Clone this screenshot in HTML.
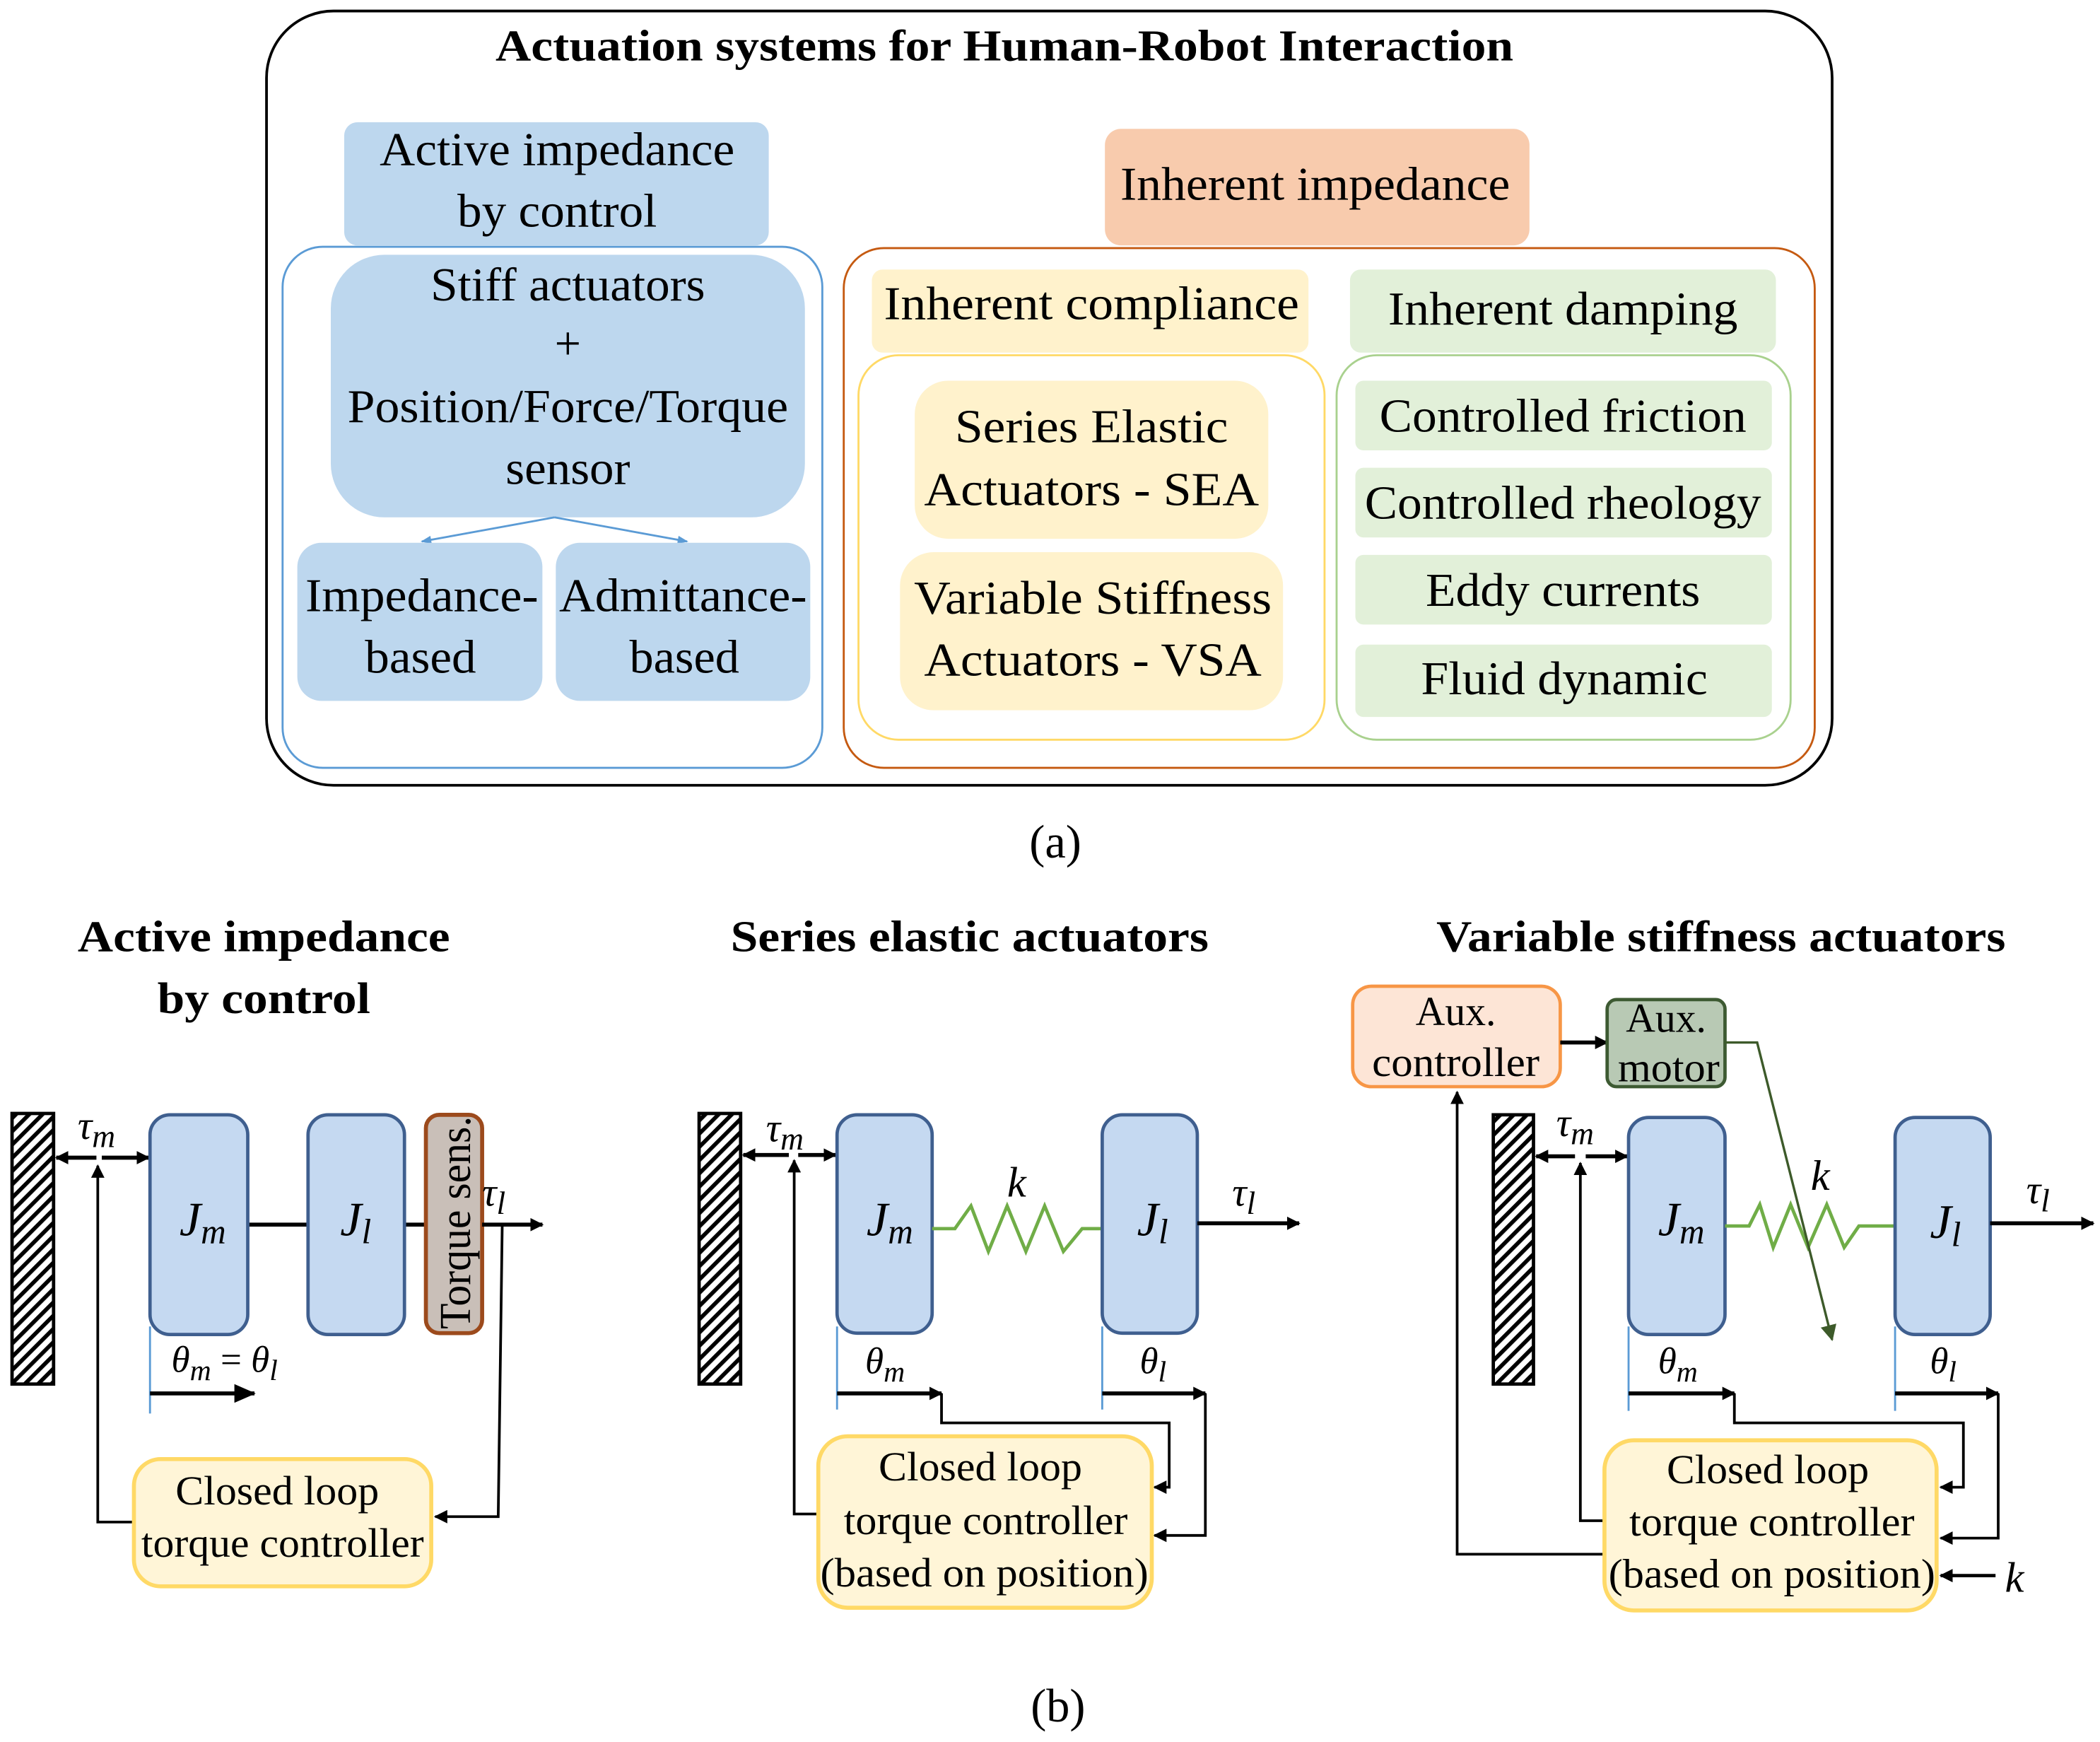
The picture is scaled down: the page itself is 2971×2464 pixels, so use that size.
<!DOCTYPE html>
<html><head><meta charset="utf-8"><style>
html,body{margin:0;padding:0;background:#fff;}
svg{display:block;}
text{font-family:"Liberation Serif","Times New Roman",serif;fill:#000;}
</style></head><body>
<svg width="2971" height="2464" viewBox="0 0 1568 1300" xmlns="http://www.w3.org/2000/svg">
<defs>
<pattern id="h" patternUnits="userSpaceOnUse" width="7" height="7" patternTransform="rotate(45)">
<rect width="7" height="7" fill="#fff"/><rect x="0" y="0" width="3" height="7" fill="#000"/>
</pattern>
<marker id="a" markerWidth="10" markerHeight="10" refX="9" refY="5" orient="auto" markerUnits="userSpaceOnUse"><path d="M0,0 L10,5 L0,10 z" fill="#000"/></marker>
<marker id="ab" markerWidth="16" markerHeight="14" refX="15" refY="7" orient="auto" markerUnits="userSpaceOnUse"><path d="M0,0 L16,7 L0,14 z" fill="#000"/></marker>
<marker id="ag" markerWidth="12" markerHeight="12" refX="11" refY="6" orient="auto" markerUnits="userSpaceOnUse"><path d="M0,0 L12,6 L0,12 z" fill="#3d5a2a"/></marker>
<marker id="abl" markerWidth="8" markerHeight="8" refX="7" refY="4" orient="auto" markerUnits="userSpaceOnUse"><path d="M0,1 L8,4 L0,7 z" fill="#5b9bd5"/></marker>
</defs>

<!-- (a) -->
<rect x="199" y="8" width="1169" height="578" rx="50" fill="none" stroke="#000" stroke-width="2"/>
<text x="750" y="45" font-size="33" font-weight="bold" text-anchor="middle" textLength="760" lengthAdjust="spacingAndGlyphs">Actuation systems for Human-Robot Interaction</text>

<rect x="257" y="91" width="317" height="92" rx="10" fill="#bdd7ee"/>
<text x="416" y="123" font-size="35" text-anchor="middle" textLength="265" lengthAdjust="spacingAndGlyphs">Active impedance</text>
<text x="416" y="169" font-size="35" text-anchor="middle" textLength="149" lengthAdjust="spacingAndGlyphs">by control</text>
<rect x="211" y="184" width="403" height="389" rx="30" fill="none" stroke="#5b9bd5" stroke-width="1.5"/>
<rect x="247" y="190" width="354" height="196" rx="40" fill="#bdd7ee"/>
<text x="424" y="224" font-size="35" text-anchor="middle" textLength="205" lengthAdjust="spacingAndGlyphs">Stiff actuators</text>
<text x="424" y="268" font-size="35" text-anchor="middle">+</text>
<text x="424" y="315" font-size="35" text-anchor="middle" textLength="329" lengthAdjust="spacingAndGlyphs">Position/Force/Torque</text>
<text x="424" y="361" font-size="35" text-anchor="middle" textLength="93" lengthAdjust="spacingAndGlyphs">sensor</text>
<line x1="414" y1="386" x2="315" y2="404" stroke="#5b9bd5" stroke-width="1.5" marker-end="url(#abl)"/>
<line x1="414" y1="386" x2="513" y2="404" stroke="#5b9bd5" stroke-width="1.5" marker-end="url(#abl)"/>
<rect x="222" y="405" width="183" height="118" rx="18" fill="#bdd7ee"/>
<text x="315" y="456" font-size="35" text-anchor="middle" textLength="174" lengthAdjust="spacingAndGlyphs">Impedance-</text>
<text x="314" y="502" font-size="35" text-anchor="middle" textLength="83" lengthAdjust="spacingAndGlyphs">based</text>
<rect x="415" y="405" width="190" height="118" rx="18" fill="#bdd7ee"/>
<text x="510" y="456" font-size="35" text-anchor="middle" textLength="185" lengthAdjust="spacingAndGlyphs">Admittance-</text>
<text x="511" y="502" font-size="35" text-anchor="middle" textLength="82" lengthAdjust="spacingAndGlyphs">based</text>

<rect x="825" y="96" width="317" height="87" rx="12" fill="#f8cbad"/>
<text x="982" y="149" font-size="35" text-anchor="middle" textLength="291" lengthAdjust="spacingAndGlyphs">Inherent impedance</text>
<rect x="630" y="185" width="725" height="388" rx="30" fill="none" stroke="#c55a11" stroke-width="1.5"/>
<rect x="651" y="201" width="326" height="62" rx="8" fill="#fff2cc"/>
<text x="815" y="238" font-size="35" text-anchor="middle" textLength="310" lengthAdjust="spacingAndGlyphs">Inherent compliance</text>
<rect x="641" y="265" width="348" height="287" rx="30" fill="none" stroke="#ffd966" stroke-width="1.5"/>
<rect x="683" y="284" width="264" height="118" rx="25" fill="#fff2cc"/>
<text x="815" y="330" font-size="35" text-anchor="middle" textLength="204" lengthAdjust="spacingAndGlyphs">Series Elastic</text>
<text x="815" y="377" font-size="35" text-anchor="middle" textLength="250" lengthAdjust="spacingAndGlyphs">Actuators - SEA</text>
<rect x="672" y="412" width="286" height="118" rx="25" fill="#fff2cc"/>
<text x="816" y="458" font-size="35" text-anchor="middle" textLength="267" lengthAdjust="spacingAndGlyphs">Variable Stiffness</text>
<text x="816" y="504" font-size="35" text-anchor="middle" textLength="252" lengthAdjust="spacingAndGlyphs">Actuators - VSA</text>
<rect x="1008" y="201" width="318" height="62" rx="8" fill="#e2f0d9"/>
<text x="1167" y="242" font-size="35" text-anchor="middle" textLength="261" lengthAdjust="spacingAndGlyphs">Inherent damping</text>
<rect x="998" y="265" width="339" height="287" rx="30" fill="none" stroke="#a9d18e" stroke-width="1.5"/>
<rect x="1012" y="284" width="311" height="52" rx="6" fill="#e2f0d9"/>
<text x="1167" y="322" font-size="35" text-anchor="middle" textLength="274" lengthAdjust="spacingAndGlyphs">Controlled friction</text>
<rect x="1012" y="349" width="311" height="52" rx="6" fill="#e2f0d9"/>
<text x="1167" y="387" font-size="35" text-anchor="middle" textLength="296" lengthAdjust="spacingAndGlyphs">Controlled rheology</text>
<rect x="1012" y="414" width="311" height="52" rx="6" fill="#e2f0d9"/>
<text x="1167" y="452" font-size="35" text-anchor="middle" textLength="205" lengthAdjust="spacingAndGlyphs">Eddy currents</text>
<rect x="1012" y="481" width="311" height="54" rx="6" fill="#e2f0d9"/>
<text x="1168" y="518" font-size="35" text-anchor="middle" textLength="214" lengthAdjust="spacingAndGlyphs">Fluid dynamic</text>
<text x="788" y="640" font-size="35" text-anchor="middle">(a)</text>

<!-- (b) titles -->
<text x="197" y="710" font-size="33" font-weight="bold" text-anchor="middle" textLength="278" lengthAdjust="spacingAndGlyphs">Active impedance</text>
<text x="197" y="756" font-size="33" font-weight="bold" text-anchor="middle" textLength="159" lengthAdjust="spacingAndGlyphs">by control</text>
<text x="724" y="710" font-size="33" font-weight="bold" text-anchor="middle" textLength="357" lengthAdjust="spacingAndGlyphs">Series elastic actuators</text>
<text x="1285" y="710" font-size="33" font-weight="bold" text-anchor="middle" textLength="425" lengthAdjust="spacingAndGlyphs">Variable stiffness actuators</text>

<!-- Panel 1 -->
<rect x="9" y="831" width="31" height="202" fill="url(#h)" stroke="#000" stroke-width="2.5"/>
<line x1="72" y1="864" x2="42" y2="864" stroke="#000" stroke-width="3" marker-end="url(#a)"/>
<line x1="76" y1="864" x2="111" y2="864" stroke="#000" stroke-width="3" marker-end="url(#a)"/>
<text x="58" y="850" font-size="30" font-style="italic">τ<tspan font-size="24" dy="6">m</tspan></text>
<polyline points="100,1136 73,1136 73,870" fill="none" stroke="#000" stroke-width="2" marker-end="url(#a)"/>
<line x1="185" y1="914" x2="230" y2="914" stroke="#000" stroke-width="3"/>
<line x1="302" y1="914" x2="318" y2="914" stroke="#000" stroke-width="3"/>
<rect x="112" y="832" width="73" height="164" rx="15" fill="#c5d9f1" stroke="#3f5f8f" stroke-width="2.5"/>
<text x="134" y="922" font-size="36" font-style="italic">J<tspan font-size="26" dy="6">m</tspan></text>
<rect x="230" y="832" width="72" height="164" rx="15" fill="#c5d9f1" stroke="#3f5f8f" stroke-width="2.5"/>
<text x="254" y="922" font-size="36" font-style="italic">J<tspan font-size="26" dy="6">l</tspan></text>
<rect x="318" y="832" width="42" height="163" rx="10" fill="#c9bfb8" stroke="#9c4a1c" stroke-width="3"/>
<text transform="translate(351,992) rotate(-90)" font-size="33" textLength="159" lengthAdjust="spacingAndGlyphs">Torque sens.</text>
<line x1="360" y1="914" x2="405" y2="914" stroke="#000" stroke-width="3" marker-end="url(#a)"/>
<text x="360" y="900" font-size="30" font-style="italic">τ<tspan font-size="24" dy="6">l</tspan></text>
<polyline points="375,914 372,1132 325,1132" fill="none" stroke="#000" stroke-width="2" marker-end="url(#a)"/>
<line x1="112" y1="990" x2="112" y2="1055" stroke="#5b9bd5" stroke-width="1.5"/>
<line x1="112" y1="1040" x2="190" y2="1040" stroke="#000" stroke-width="3" marker-end="url(#ab)"/>
<text x="128" y="1024" font-size="28" font-style="italic">θ<tspan font-size="22" dy="6">m</tspan><tspan dy="-6" font-style="normal"> = </tspan>θ<tspan font-size="22" dy="6">l</tspan></text>
<rect x="100" y="1089" width="222" height="95" rx="20" fill="#fff5d7" stroke="#ffd966" stroke-width="3"/>
<text x="207" y="1123" font-size="31" text-anchor="middle" textLength="152" lengthAdjust="spacingAndGlyphs">Closed loop</text>
<text x="211" y="1162" font-size="31" text-anchor="middle" textLength="211" lengthAdjust="spacingAndGlyphs">torque controller</text>

<!-- Panel 2 -->
<rect x="522" y="831" width="31" height="202" fill="url(#h)" stroke="#000" stroke-width="2.5"/>
<line x1="589" y1="862" x2="555" y2="862" stroke="#000" stroke-width="3" marker-end="url(#a)"/>
<line x1="596" y1="862" x2="624" y2="862" stroke="#000" stroke-width="3" marker-end="url(#a)"/>
<text x="572" y="852" font-size="30" font-style="italic">τ<tspan font-size="24" dy="6">m</tspan></text>
<polyline points="611,1130 593,1130 593,866" fill="none" stroke="#000" stroke-width="2" marker-end="url(#a)"/>
<rect x="625" y="832" width="71" height="163" rx="15" fill="#c5d9f1" stroke="#3f5f8f" stroke-width="2.5"/>
<text x="647" y="922" font-size="36" font-style="italic">J<tspan font-size="26" dy="6">m</tspan></text>
<polyline points="696,917 713,917 725,900 738,934 752,900 766,934 780,900 794,934 808,917 823,917" fill="none" stroke="#70ad47" stroke-width="2.5"/>
<text x="752" y="893" font-size="32" font-style="italic">k</text>
<rect x="823" y="832" width="71" height="163" rx="15" fill="#c5d9f1" stroke="#3f5f8f" stroke-width="2.5"/>
<text x="849" y="922" font-size="36" font-style="italic">J<tspan font-size="26" dy="6">l</tspan></text>
<line x1="894" y1="913" x2="970" y2="913" stroke="#000" stroke-width="3" marker-end="url(#a)"/>
<text x="920" y="900" font-size="30" font-style="italic">τ<tspan font-size="24" dy="6">l</tspan></text>
<line x1="625" y1="990" x2="625" y2="1052" stroke="#5b9bd5" stroke-width="1.5"/>
<line x1="823" y1="990" x2="823" y2="1052" stroke="#5b9bd5" stroke-width="1.5"/>
<line x1="625" y1="1040" x2="703" y2="1040" stroke="#000" stroke-width="3" marker-end="url(#a)"/>
<line x1="823" y1="1040" x2="900" y2="1040" stroke="#000" stroke-width="3" marker-end="url(#a)"/>
<text x="646" y="1025" font-size="28" font-style="italic">θ<tspan font-size="22" dy="6">m</tspan></text>
<text x="851" y="1025" font-size="28" font-style="italic">θ<tspan font-size="22" dy="6">l</tspan></text>
<polyline points="703,1040 703,1062 873,1062 873,1110 862,1110" fill="none" stroke="#000" stroke-width="2" marker-end="url(#a)"/>
<polyline points="900,1040 900,1146 862,1146" fill="none" stroke="#000" stroke-width="2" marker-end="url(#a)"/>
<rect x="611" y="1072" width="249" height="128" rx="22" fill="#fff5d7" stroke="#ffd966" stroke-width="3"/>
<text x="732" y="1105" font-size="31" text-anchor="middle" textLength="152" lengthAdjust="spacingAndGlyphs">Closed loop</text>
<text x="736" y="1145" font-size="31" text-anchor="middle" textLength="212" lengthAdjust="spacingAndGlyphs">torque controller</text>
<text x="735" y="1184" font-size="31" text-anchor="middle" textLength="245" lengthAdjust="spacingAndGlyphs">(based on position)</text>

<!-- Panel 3 -->
<rect x="1010" y="736" width="155" height="75" rx="14" fill="#fde5d6" stroke="#f79646" stroke-width="2.5"/>
<text x="1087" y="765" font-size="31" text-anchor="middle" textLength="60" lengthAdjust="spacingAndGlyphs">Aux.</text>
<text x="1087" y="803" font-size="31" text-anchor="middle" textLength="125" lengthAdjust="spacingAndGlyphs">controller</text>
<line x1="1165" y1="778" x2="1200" y2="778" stroke="#000" stroke-width="3" marker-end="url(#a)"/>
<rect x="1200" y="746" width="88" height="65" rx="7" fill="#b8c9b4" stroke="#3d5a32" stroke-width="2.5"/>
<text x="1244" y="770" font-size="31" text-anchor="middle" textLength="60" lengthAdjust="spacingAndGlyphs">Aux.</text>
<text x="1246" y="807" font-size="31" text-anchor="middle" textLength="76" lengthAdjust="spacingAndGlyphs">motor</text>
<rect x="1115" y="832" width="30" height="201" fill="url(#h)" stroke="#000" stroke-width="2.5"/>
<line x1="1176" y1="863" x2="1147" y2="863" stroke="#000" stroke-width="3" marker-end="url(#a)"/>
<line x1="1184" y1="863" x2="1215" y2="863" stroke="#000" stroke-width="3" marker-end="url(#a)"/>
<text x="1162" y="848" font-size="30" font-style="italic">τ<tspan font-size="24" dy="6">m</tspan></text>
<polyline points="1198,1135 1180,1135 1180,868" fill="none" stroke="#000" stroke-width="2" marker-end="url(#a)"/>
<polyline points="1198,1160 1088,1160 1088,815" fill="none" stroke="#000" stroke-width="2" marker-end="url(#a)"/>
<rect x="1216" y="834" width="72" height="162" rx="15" fill="#c5d9f1" stroke="#3f5f8f" stroke-width="2.5"/>
<text x="1238" y="922" font-size="36" font-style="italic">J<tspan font-size="26" dy="6">m</tspan></text>
<polyline points="1288,915 1306,915 1314,899 1324,931 1337,899 1350,931 1364,899 1377,931 1388,915 1415,915" fill="none" stroke="#70ad47" stroke-width="2.5"/>
<text x="1352" y="888" font-size="32" font-style="italic">k</text>
<rect x="1415" y="834" width="71" height="162" rx="15" fill="#c5d9f1" stroke="#3f5f8f" stroke-width="2.5"/>
<text x="1441" y="924" font-size="36" font-style="italic">J<tspan font-size="26" dy="6">l</tspan></text>
<line x1="1486" y1="913" x2="1563" y2="913" stroke="#000" stroke-width="3" marker-end="url(#a)"/>
<text x="1513" y="898" font-size="30" font-style="italic">τ<tspan font-size="24" dy="6">l</tspan></text>
<polyline points="1288,778 1312,778 1368,1000" fill="none" stroke="#3d5a2a" stroke-width="1.8" marker-end="url(#ag)"/>
<line x1="1216" y1="990" x2="1216" y2="1053" stroke="#5b9bd5" stroke-width="1.5"/>
<line x1="1415" y1="990" x2="1415" y2="1053" stroke="#5b9bd5" stroke-width="1.5"/>
<line x1="1216" y1="1040" x2="1295" y2="1040" stroke="#000" stroke-width="3" marker-end="url(#a)"/>
<line x1="1415" y1="1040" x2="1492" y2="1040" stroke="#000" stroke-width="3" marker-end="url(#a)"/>
<text x="1238" y="1025" font-size="28" font-style="italic">θ<tspan font-size="22" dy="6">m</tspan></text>
<text x="1441" y="1025" font-size="28" font-style="italic">θ<tspan font-size="22" dy="6">l</tspan></text>
<polyline points="1295,1040 1295,1062 1466,1062 1466,1110 1449,1110" fill="none" stroke="#000" stroke-width="2" marker-end="url(#a)"/>
<polyline points="1492,1040 1492,1148 1449,1148" fill="none" stroke="#000" stroke-width="2" marker-end="url(#a)"/>
<line x1="1490" y1="1176" x2="1449" y2="1176" stroke="#000" stroke-width="2.5" marker-end="url(#a)"/>
<text x="1497" y="1188" font-size="32" font-style="italic">k</text>
<rect x="1198" y="1075" width="248" height="127" rx="22" fill="#fff5d7" stroke="#ffd966" stroke-width="3"/>
<text x="1320" y="1107" font-size="31" text-anchor="middle" textLength="151" lengthAdjust="spacingAndGlyphs">Closed loop</text>
<text x="1323" y="1146" font-size="31" text-anchor="middle" textLength="213" lengthAdjust="spacingAndGlyphs">torque controller</text>
<text x="1323" y="1185" font-size="31" text-anchor="middle" textLength="244" lengthAdjust="spacingAndGlyphs">(based on position)</text>

<text x="790" y="1285" font-size="35" text-anchor="middle">(b)</text>
</svg>
</body></html>
